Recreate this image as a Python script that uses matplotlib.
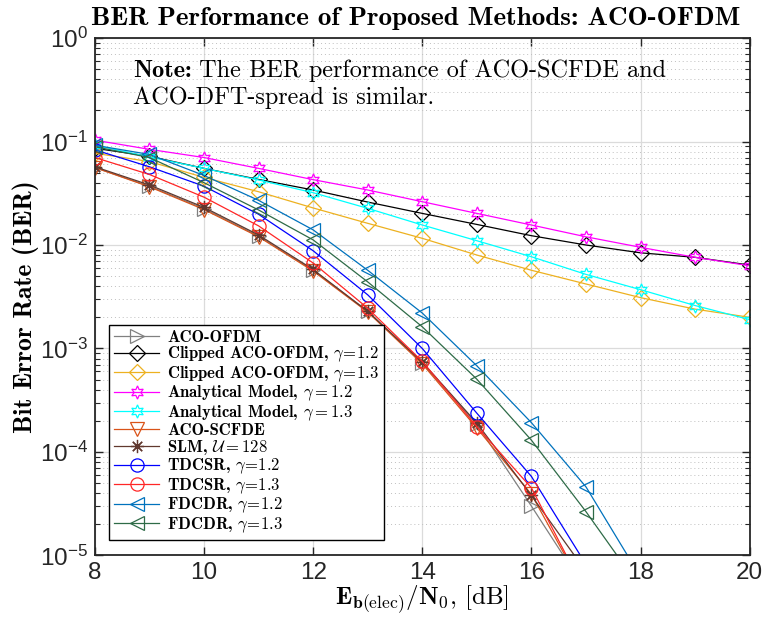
import numpy as np
import matplotlib
matplotlib.use("Agg")
import matplotlib.pyplot as plt

plt.rcParams["mathtext.fontset"] = "cm"
plt.rcParams["font.family"] = ["Liberation Sans", "DejaVu Sans"]

# ---------------- data: BER vs Eb(elec)/N0 ----------------
snr = [8, 9, 10, 11, 12, 13, 14, 15, 16, 17, 18, 19, 20]
snr_fd = snr[:11]   # FDCDR curves (8..18 dB)
snr_td = snr[:10]   # steep curves (8..17 dB)

aco_ofdm = [0.056, 0.037, 0.0225, 0.0122, 0.0057, 0.0023, 0.00072, 0.000185, 3.0e-5, 4.6e-6]
clip_12 = [0.086, 0.072, 0.055, 0.043, 0.034, 0.026, 0.0202, 0.0158, 0.0123, 0.0100, 0.0084, 0.0076, 0.0064]
clip_13 = [0.077, 0.064, 0.045, 0.0327, 0.0228, 0.0162, 0.0116, 0.0080, 0.0057, 0.0042, 0.0031, 0.0024, 0.0020]
anal_12 = [0.103, 0.084, 0.070, 0.055, 0.0428, 0.034, 0.0262, 0.0202, 0.0156, 0.0120, 0.0095, 0.0076, 0.0063]
anal_13 = [0.092, 0.071, 0.055, 0.0425, 0.032, 0.0226, 0.0156, 0.0110, 0.0077, 0.0052, 0.0037, 0.0026, 0.0019]
aco_scfde = [0.056, 0.0365, 0.022, 0.012, 0.0056, 0.00225, 0.00071, 0.00017, 3.9e-5, 4.3e-6]
slm_128 = [0.057, 0.038, 0.0231, 0.0125, 0.0058, 0.00228, 0.00074, 0.00019, 3.8e-5, 7.0e-6]
tdcsr_12 = [0.083, 0.057, 0.037, 0.0198, 0.0088, 0.0033, 0.0010, 0.000237, 5.8e-5, 8.2e-6]
tdcsr_13 = [0.070, 0.048, 0.029, 0.0153, 0.0067, 0.00245, 0.00075, 0.000176, 4.5e-5, 4.3e-6]
fdcdr_12 = [0.092, 0.075, 0.047, 0.027, 0.014, 0.0057, 0.0022, 0.00068, 0.000192, 4.6e-5, 6.2e-6]
fdcdr_13 = [0.089, 0.070, 0.040, 0.0218, 0.0112, 0.0044, 0.00162, 0.000505, 0.00013, 2.65e-5, 4.8e-6]

# (x, y, label, color, marker)
series = [
    (snr_td, aco_ofdm, r"ACO-OFDM", (0.5, 0.5, 0.5), ">"),
    (snr, clip_12, r"Clipped ACO-OFDM, $\gamma\!=\!1.2$", "black", "D"),
    (snr, clip_13, r"Clipped ACO-OFDM, $\gamma\!=\!1.3$", (0.929, 0.694, 0.125), "D"),
    (snr, anal_12, r"Analytical Model, $\gamma = 1.2$", (1, 0, 1), (6, 1, 0)),
    (snr, anal_13, r"Analytical Model, $\gamma = 1.3$", (0, 1, 1), (6, 1, 0)),
    (snr_td, aco_scfde, r"ACO-SCFDE", (0.85, 0.325, 0.098), "v"),
    (snr_td, slm_128, r"SLM, $\mathcal{U} = 128$", (0.38, 0.22, 0.18), (8, 2, 0)),
    (snr_td, tdcsr_12, r"TDCSR, $\gamma\!=\!1.2$", (0, 0, 1), "o"),
    (snr_td, tdcsr_13, r"TDCSR, $\gamma\!=\!1.3$", (1, 0.15, 0.15), "o"),
    (snr_fd, fdcdr_12, r"FDCDR, $\gamma\!=\!1.2$", (0, 0.447, 0.741), "<"),
    (snr_fd, fdcdr_13, r"FDCDR, $\gamma\!=\!1.3$", (0.18, 0.42, 0.28), "<"),
]

fig = plt.figure(figsize=(7.65, 6.17), dpi=100)
ax = fig.add_axes([0.124, 0.0997, 0.856, 0.8387])

for x, y, lab, col, mk in series:
    ms = 8.5 if mk == "D" else 9.5
    ax.semilogy(x, y, color=col, marker=mk, markersize=ms, markerfacecolor="none",
                markeredgecolor=col, markeredgewidth=0.9, lw=0.9, label=lab)

ax.set_xlim(8, 20)
ax.set_ylim(1e-5, 1)
ax.set_xticks(np.arange(8, 21, 2))
ax.grid(True, which="major", color=(0.86, 0.86, 0.86), lw=0.9, ls="-")
ax.grid(True, which="minor", axis="y", color=(0.75, 0.75, 0.75), lw=0.7, ls=(0, (1, 3)))
ax.set_axisbelow(True)
ax.tick_params(which="both", direction="in", top=True, right=True, labelsize=17.5,
               color=(0.15, 0.15, 0.15), labelcolor=(0.15, 0.15, 0.15))
ax.tick_params(which="major", length=6, width=1, pad=5)
ax.tick_params(which="minor", length=3.5, width=0.8)
for sp in ax.spines.values():
    sp.set_color((0.15, 0.15, 0.15))
    sp.set_linewidth(1.3)

title = ax.set_title("BER Performance of Proposed Methods: ACO-OFDM", family="cmb10",
                     fontsize=19.5, pad=9.5)
title.set_x(0.49)
ax.set_ylabel("Bit Error Rate (BER)", family="cmb10", fontsize=18.5)
ax.yaxis.set_label_coords(-0.085, 0.48)
ax.set_xlabel(r"$\mathbf{E}_{\mathbf{b}\mathrm{(elec)}}\mathbf{/N}_{\mathbf{0}}$, [dB]",
              family="cmr10", fontsize=18, labelpad=0)

note = ax.text(0.058, 0.925, "Note:", transform=ax.transAxes, family="cmb10",
               fontsize=17.5, va="baseline")
ax.annotate(" The BER performance of ACO-SCFDE and", xy=(1, 0), xycoords=note,
            family="cmr10", fontsize=17.5, va="bottom")
ax.text(0.058, 0.872, "ACO-DFT-spread is similar.", transform=ax.transAxes,
        family="cmr10", fontsize=17.5, va="baseline")

leg = ax.legend(loc="lower left", bbox_to_anchor=(0.021, 0.03), prop={"family": "cmb10", "size": 12},
                handlelength=2.75, labelspacing=0.0, borderpad=0.3, handletextpad=0.45,
                fancybox=False, framealpha=1, borderaxespad=0)
leg.get_frame().set_edgecolor("black")
leg.get_frame().set_linewidth(1.0)

fig.savefig("out.png", dpi=100)
